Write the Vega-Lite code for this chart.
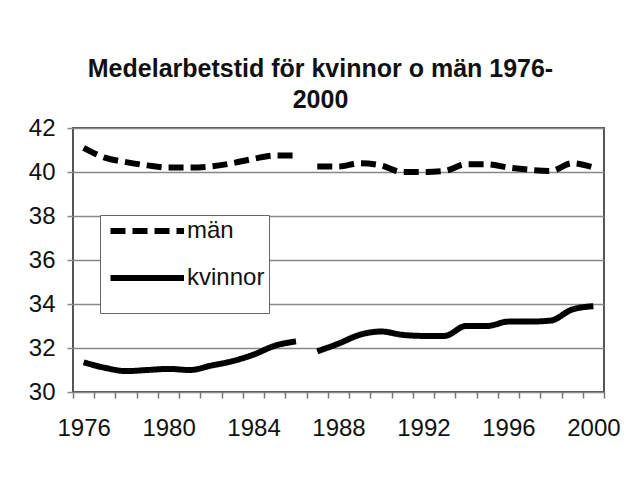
{
  "$schema": "https://vega.github.io/schema/vega-lite/v6.json",
  "autosize": {"type": "none"},
  "width": 531,
  "height": 264,
  "padding": {"left": 73, "top": 128, "right": 22, "bottom": 87},
  "background": "white",
  "title": {
    "text": ["Medelarbetstid för kvinnor o män 1976-", "2000"],
    "font": "Liberation Sans",
    "fontSize": 25,
    "fontWeight": "bold",
    "color": "#111111",
    "anchor": "middle",
    "dx": -18,
    "offset": 3,
    "lineHeight": 31
  },
  "data": {
    "values": [
      {"year": 1976, "value": 41.1, "series": "män", "period": 1},
      {"year": 1977, "value": 40.65, "series": "män", "period": 1},
      {"year": 1978, "value": 40.45, "series": "män", "period": 1},
      {"year": 1979, "value": 40.3, "series": "män", "period": 1},
      {"year": 1980, "value": 40.2, "series": "män", "period": 1},
      {"year": 1981, "value": 40.2, "series": "män", "period": 1},
      {"year": 1982, "value": 40.25, "series": "män", "period": 1},
      {"year": 1983, "value": 40.4, "series": "män", "period": 1},
      {"year": 1984, "value": 40.6, "series": "män", "period": 1},
      {"year": 1985, "value": 40.75, "series": "män", "period": 1},
      {"year": 1986, "value": 40.75, "series": "män", "period": 1},
      {"year": 1987, "value": 40.25, "series": "män", "period": 2},
      {"year": 1988, "value": 40.25, "series": "män", "period": 2},
      {"year": 1989, "value": 40.4, "series": "män", "period": 2},
      {"year": 1990, "value": 40.3, "series": "män", "period": 2},
      {"year": 1991, "value": 40.0, "series": "män", "period": 2},
      {"year": 1992, "value": 40.0, "series": "män", "period": 2},
      {"year": 1993, "value": 40.05, "series": "män", "period": 2},
      {"year": 1994, "value": 40.35, "series": "män", "period": 2},
      {"year": 1995, "value": 40.35, "series": "män", "period": 2},
      {"year": 1996, "value": 40.2, "series": "män", "period": 2},
      {"year": 1997, "value": 40.1, "series": "män", "period": 2},
      {"year": 1998, "value": 40.05, "series": "män", "period": 2},
      {"year": 1999, "value": 40.4, "series": "män", "period": 2},
      {"year": 2000, "value": 40.2, "series": "män", "period": 2},
      {"year": 1976, "value": 31.35, "series": "kvinnor", "period": 1},
      {"year": 1977, "value": 31.1, "series": "kvinnor", "period": 1},
      {"year": 1978, "value": 30.95, "series": "kvinnor", "period": 1},
      {"year": 1979, "value": 31.0, "series": "kvinnor", "period": 1},
      {"year": 1980, "value": 31.05, "series": "kvinnor", "period": 1},
      {"year": 1981, "value": 31.0, "series": "kvinnor", "period": 1},
      {"year": 1982, "value": 31.2, "series": "kvinnor", "period": 1},
      {"year": 1983, "value": 31.4, "series": "kvinnor", "period": 1},
      {"year": 1984, "value": 31.7, "series": "kvinnor", "period": 1},
      {"year": 1985, "value": 32.1, "series": "kvinnor", "period": 1},
      {"year": 1986, "value": 32.3, "series": "kvinnor", "period": 1},
      {"year": 1987, "value": 31.85, "series": "kvinnor", "period": 2},
      {"year": 1988, "value": 32.2, "series": "kvinnor", "period": 2},
      {"year": 1989, "value": 32.6, "series": "kvinnor", "period": 2},
      {"year": 1990, "value": 32.75, "series": "kvinnor", "period": 2},
      {"year": 1991, "value": 32.6, "series": "kvinnor", "period": 2},
      {"year": 1992, "value": 32.55, "series": "kvinnor", "period": 2},
      {"year": 1993, "value": 32.55, "series": "kvinnor", "period": 2},
      {"year": 1994, "value": 33.0, "series": "kvinnor", "period": 2},
      {"year": 1995, "value": 33.0, "series": "kvinnor", "period": 2},
      {"year": 1996, "value": 33.2, "series": "kvinnor", "period": 2},
      {"year": 1997, "value": 33.2, "series": "kvinnor", "period": 2},
      {"year": 1998, "value": 33.25, "series": "kvinnor", "period": 2},
      {"year": 1999, "value": 33.75, "series": "kvinnor", "period": 2},
      {"year": 2000, "value": 33.9, "series": "kvinnor", "period": 2}
    ]
  },
  "layer": [
    {
      "mark": {"type": "line", "strokeWidth": 6, "color": "black", "interpolate": "monotone", "strokeCap": "butt"},
      "encoding": {
        "x": {
          "field": "year", "type": "quantitative",
          "scale": {"domain": [1975.5, 2000.5], "nice": false, "zero": false},
          "axis": {
            "orient": "bottom", "values": [1976, 1980, 1984, 1988, 1992, 1996, 2000],
            "format": "d", "ticks": false, "domain": false, "grid": false,
            "labelFontSize": 24, "labelPadding": 24, "title": null, "labelColor": "#111111"
          }
        },
        "y": {
          "field": "value", "type": "quantitative",
          "scale": {"domain": [30, 42], "nice": false, "zero": false},
          "axis": {
            "values": [30, 32, 34, 36, 38, 40, 42], "grid": true, "gridColor": "#888888", "gridWidth": 1.5,
            "tickColor": "#888888", "tickSize": 6, "tickWidth": 1.5, "domain": false,
            "labelFontSize": 24, "labelPadding": 12, "title": null, "labelColor": "#111111"
          }
        },
        "strokeDash": {
          "field": "series", "type": "nominal",
          "scale": {"domain": ["män", "kvinnor"], "range": [[15, 7], [1, 0]]},
          "legend": {
            "orient": "none", "legendX": 27, "legendY": 87,
            "title": "\u00a0\u00a0\u00a0\u00a0\u00a0\u00a0\u00a0\u00a0\u00a0\u00a0\u00a0\u00a0\u00a0\u00a0\u00a0\u00a0\u00a0\u00a0\u00a0\u00a0\u00a0\u00a0\u00a0\u00a0\u00a0\u00a0\u00a0\u00a0\u00a0\u00a0\u00a0\u00a0\u00a0\u00a0",
            "titleOrient": "bottom", "titleFontSize": 19, "titlePadding": 0, "titleLimit": 400,
            "symbolType": "M-1,0H20", "symbolSize": 49, "symbolStrokeWidth": 6, "symbolStrokeColor": "black",
            "symbolOffset": -2,
            "labelFontSize": 24, "labelColor": "#111111", "labelOffset": 61,
            "padding": 4, "rowPadding": 23,
            "strokeColor": "#666666", "fillColor": "white",
            "encode": {
              "symbols": {
                "update": {
                  "strokeDash": [
                    {"test": "datum.value === 'män'", "value": [16, 27, 15, 100]},
                    {"value": [1, 0]}
                  ]
                }
              }
            }
          }
        },
        "detail": {"field": "period", "type": "nominal"}
      }
    },
    {
      "mark": {"type": "point", "opacity": 0},
      "encoding": {
        "x": {
          "field": "year", "type": "quantitative",
          "axis": {
            "orient": "bottom",
            "values": [1975.5, 1976.5, 1977.5, 1978.5, 1979.5, 1980.5, 1981.5, 1982.5, 1983.5, 1984.5, 1985.5, 1986.5, 1987.5, 1988.5, 1989.5, 1990.5, 1991.5, 1992.5, 1993.5, 1994.5, 1995.5, 1996.5, 1997.5, 1998.5, 1999.5, 2000.5],
            "labels": false, "grid": false, "domain": false, "tickSize": 6, "tickWidth": 1.5, "tickColor": "#777777", "title": null
          }
        },
        "y": {"field": "value", "type": "quantitative"}
      }
    }
  ],
  "resolve": {"axis": {"x": "independent"}},
  "config": {
    "font": "Liberation Sans",
    "view": {"stroke": "#555555", "strokeWidth": 2}
  }
}
